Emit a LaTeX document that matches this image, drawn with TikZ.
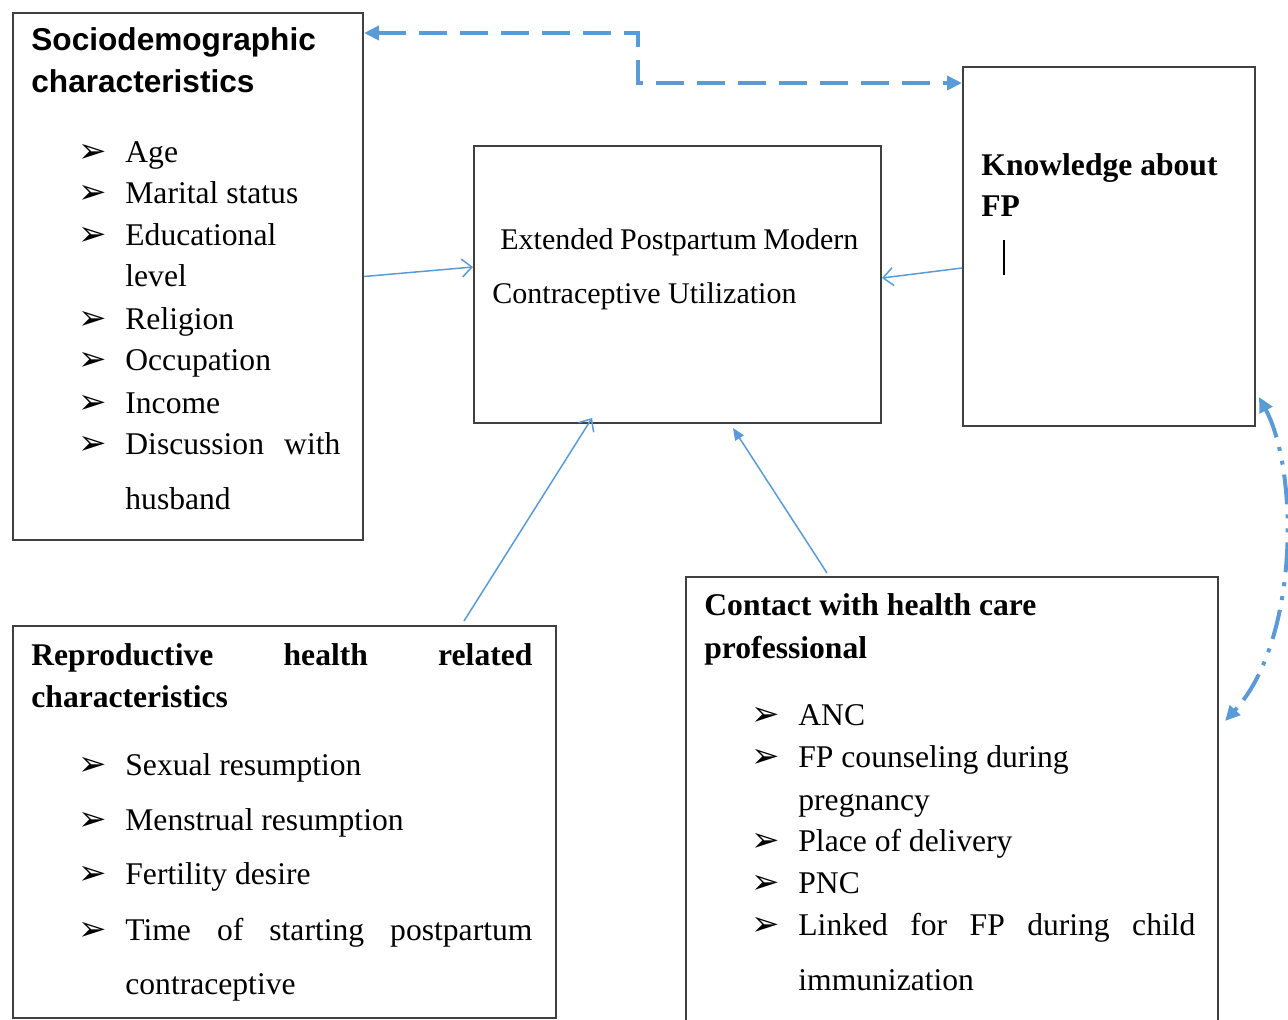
\documentclass[tikz,border=0pt]{standalone}
\usepackage{fontspec}
\setmainfont{Liberation Serif}
\newfontfamily\headfont{Liberation Sans}
\newfontfamily\symfont{DejaVu Sans}
\usetikzlibrary{arrows.meta}
\definecolor{linkblue}{RGB}{91,155,213}
\tikzset{
    box/.style={draw=black!75,line width=1pt,anchor=north west,inner sep=0pt},
    txt/.style={anchor=base west,inner sep=0pt,font=\fontsize{15.8}{19}\selectfont},
    head/.style={txt,font=\fontsize{15.8}{19}\selectfont\bfseries},
    tip/.style={anchor=base west,inner sep=0pt,font=\symfont\fontsize{17}{17}\selectfont},
    link/.style={draw=linkblue,line width=.75pt,-{Straight Barb[length=5pt,width=9pt]}},
    dashlink/.style={draw=linkblue,line width=2pt,dash pattern=on 14pt off 6.5pt,
        {Triangle[length=7.5pt,width=7pt]}-{Triangle[length=7.5pt,width=7pt]}},
    dotlink/.style={draw=linkblue,line width=2pt,
        dash pattern=on 15pt off 5pt on 2pt off 5pt on 2pt off 5pt,
        {Triangle[length=7.5pt,width=7pt]}-{Triangle[length=7.5pt,width=7pt]}}
}

\begin{document}
\begin{tikzpicture}[x=0.5pt,y=-0.5pt]
    \useasboundingbox (0,0) rectangle (1288,1019);

    % boxes
    \node[box,minimum width=175pt,minimum height=263.5pt] (socio) at (12,12) {};
    \node[box,minimum width=203.5pt,minimum height=138.5pt] (epmc) at (473,145) {};
    \node[box,minimum width=146pt,minimum height=179.5pt] (know) at (962,66) {};
    \node[box,minimum width=271.5pt,minimum height=196pt] (repro) at (12,625) {};
    \node[box,minimum width=266pt,minimum height=227pt] (contact) at (685,576) {};

    % sociodemographic
    \node[txt,font=\headfont\fontsize{15.8}{19}\selectfont\bfseries] (s-h1) at (31,50) {Sociodemographic};
    \node[txt,font=\headfont\fontsize{15.8}{19}\selectfont\bfseries] (s-h2) at (31,92) {characteristics};
    \foreach \y/\t in {162/Age,203/Marital status,245/Educational,329/Religion,370/Occupation,413/Income} {
        \node[tip] (s-b\y) at (78,\y) {➢};
        \node[txt] (s-t\y) at (125,\y) {\t};
      }
    \node[tip] (s-b454) at (78,454) {➢};
    \node[txt] (s-t454) at (125,454) {\makebox[107.5pt][s]{Discussion with}};
    \node[txt] (s-c286) at (125,286) {level};
    \node[txt] (s-c509) at (125,509) {husband};

    % outcome
    \node[txt,font=\fontsize{15}{18}\selectfont] (e-1) at (500,249) {\makebox[179pt][s]{Extended Postpartum Modern}};
    \node[txt,font=\fontsize{15}{18}\selectfont] (e-2) at (492,303) {Contraceptive Utilization};

    % knowledge
    \node[head] (k-1) at (981,175) {Knowledge about};
    \node[head] (k-2) at (981,216) {FP};
    \draw[black,line width=.6pt] (1004,240) -- (1004,275);

    % reproductive health
    \node[head] (r-h1) at (31,665) {\makebox[250.5pt][s]{Reproductive health related}};
    \node[head] (r-h2) at (31,707) {characteristics};
    \foreach \y/\t in {775/Sexual resumption,830/Menstrual resumption,884/Fertility desire} {
        \node[tip] (r-b\y) at (78,\y) {➢};
        \node[txt] (r-t\y) at (125,\y) {\t};
      }
    \node[tip] (r-b940) at (78,940) {➢};
    \node[txt] (r-t940) at (125,940) {\makebox[203.5pt][s]{Time of starting postpartum}};
    \node[txt] (r-c994) at (125,994) {contraceptive};

    % contact
    \node[head] (c-h1) at (704,615) {Contact with health care};
    \node[head] (c-h2) at (704,658) {professional};
    \foreach \y/\t in {725/ANC,767/FP counseling during,851/Place of delivery,893/PNC} {
        \node[tip] (c-b\y) at (751,\y) {➢};
        \node[txt] (c-t\y) at (798,\y) {\t};
      }
    \node[tip] (c-b935) at (751,935) {➢};
    \node[txt] (c-t935) at (798,935) {\makebox[198.5pt][s]{Linked for FP during child}};
    \node[txt] (c-c810) at (798,810) {pregnancy};
    \node[txt] (c-c990) at (798,990) {immunization};

    % connectors
    \draw[link] (socio.east) -- ([yshift=8.75pt]epmc.west);
    \draw[link] ([yshift=-10.75pt]know.west) -- ([yshift=3.25pt]epmc.east);
    \draw[link] ([xshift=89.75pt,yshift=2pt]repro.north) -- ([xshift=-42.75pt,yshift=3pt]epmc.south);
    \draw[link,-{Triangle[length=6pt,width=5pt]}] ([xshift=-62.5pt,yshift=1.5pt]contact.north) -- ([xshift=27.75pt,yshift=-2pt]epmc.south);
    \draw[dashlink] ([yshift=-10.5pt]socio.north east) -- ++(274,0) |- ([yshift=-8.5pt]know.north west);
    \draw[dotlink] ([xshift=1.5pt,yshift=15pt]know.south east) .. controls +(40,75) and +(74,-80) .. ([xshift=3pt,yshift=41.5pt]contact.east);
  \end{tikzpicture}
\end{document}
